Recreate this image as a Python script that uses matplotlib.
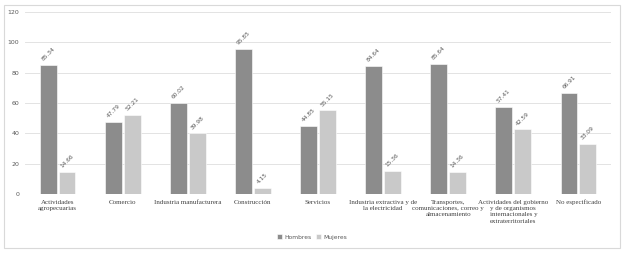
import matplotlib
matplotlib.use("Agg")
import matplotlib.pyplot as plt
import numpy as np
from matplotlib.patches import Rectangle

categories = ["Actividades\nagropecuarias", "Comercio", "Industria manufacturera",
              "Construcción", "Servicios", "Industria extractiva y de\nla electricidad",
              "Transportes,\ncomunicaciones, correo y\nalmacenamiento",
              "Actividades del gobierno\ny de organismos\ninternacionales y\nextraterritoriales",
              "No especificado"]
hombres = [85.34, 47.79, 60.02, 95.85, 44.85, 84.64, 85.64, 57.41, 66.91]
mujeres = [14.66, 52.21, 39.98, 4.15, 55.15, 15.36, 14.36, 42.59, 33.09]
series_names = ["Hombres", "Mujeres"]
yticks = [0, 20, 40, 60, 80, 100, 120]

c_h = "#8c8c8c"
c_m = "#c9c9c9"

fig = plt.figure(figsize=(6.24, 2.54), dpi=100)
fig.patches.append(Rectangle((4/624, 6/254), 616/624, 243/254, transform=fig.transFigure,
                             fill=False, edgecolor="#d9d9d9", linewidth=0.8))
ax = fig.add_axes([25/624, 1 - 194/254, 586/624, (194 - 12)/254])

x = np.arange(len(categories))
w = 0.26
b1 = ax.bar(x - w/2 - 0.015, hombres, w, color=c_h, edgecolor="white", linewidth=0.4, label=series_names[0], zorder=3)
b2 = ax.bar(x + w/2 + 0.015, mujeres, w, color=c_m, edgecolor="white", linewidth=0.4, label=series_names[1], zorder=3)

for bars, vals in ((b1, hombres), (b2, mujeres)):
    for r, v in zip(bars, vals):
        ax.text(r.get_x() + r.get_width()/2, v + 2, f"{v:.2f}", rotation=45,
                ha="center", va="bottom", fontsize=4.2, color="#595959")

ax.set_ylim(0, 120)
ax.set_xlim(-0.5, len(categories) - 0.5)
ax.set_yticks(yticks)
ax.tick_params(axis="y", labelsize=4.5, colors="#595959", length=0, pad=4)
ax.set_xticks(x)
ax.set_xticklabels(categories, fontsize=5, family="Liberation Serif", color="#404040", linespacing=1.35)
ax.tick_params(axis="x", length=0, pad=4)
ax.grid(axis="y", color="#e3e3e3", linewidth=0.7, zorder=0)
for s in ax.spines.values():
    s.set_visible(False)
ax.axhline(0, color="#d9d9d9", linewidth=0.7, zorder=2)

leg = fig.legend(handles=[b1, b2], labels=series_names, loc="center", bbox_to_anchor=(0.5, 1 - 237/254),
                 ncol=2, frameon=False, fontsize=4.3, handlelength=0.9, handleheight=0.9,
                 handletextpad=0.3, columnspacing=0.8, labelcolor="#595959")

fig.savefig("out.png", dpi=100)
